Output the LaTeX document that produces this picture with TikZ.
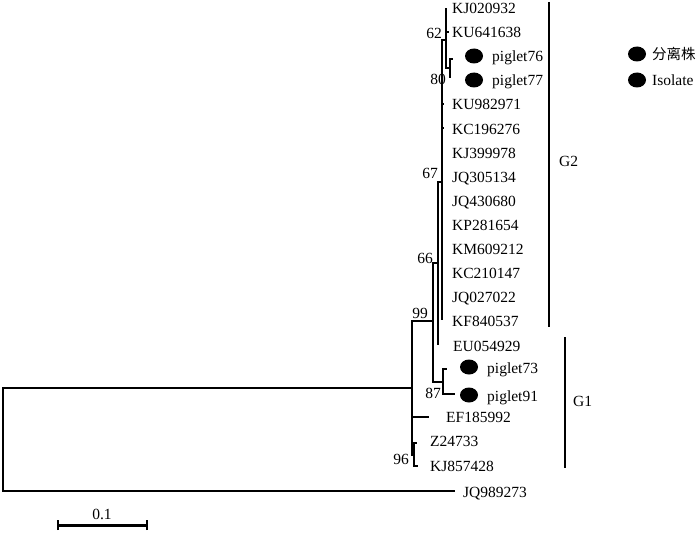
\documentclass[tikz,border=0pt]{standalone}
\usepackage{fontspec}
\setmainfont{Liberation Serif}
\newfontfamily\cjk{Noto Sans CJK SC}
\usetikzlibrary{shapes.geometric}
\begin{document}
\begin{tikzpicture}[x=1pt,y=-1pt,
  br/.style={line width=1.4pt},
  grp/.style={line width=1.4pt},
  lab/.style={anchor=base west, inner sep=0pt, font=\fontsize{15.5}{18}\selectfont},
  bs/.style={inner sep=0pt, font=\fontsize{15.5}{18}\selectfont},
  dot/.style={ellipse, fill=black, minimum width=18pt, minimum height=15pt, inner sep=0pt},
]
\useasboundingbox (0,0) rectangle (700,532);
% internal nodes
\coordinate (root) at (3,440);
\coordinate (nin) at (412,388);
\coordinate (n99) at (433,321);
\coordinate (n96) at (414,455);
\coordinate (n87) at (443,382);
\coordinate (n66) at (438,263);
\coordinate (n67) at (442,182);
\coordinate (n62) at (446,40);
\coordinate (n80) at (450,68);
% tips
\coordinate (t1) at (446,8);
\coordinate (t2) at (449,32);
\coordinate (t3) at (453,59);
\coordinate (t4) at (451,77);
\coordinate (t5) at (444,104);
\coordinate (t6) at (444,128);
\coordinate (t7) at (442,152);
\coordinate (t8) at (442,176);
\coordinate (t9) at (442,200);
\coordinate (t10) at (442,224);
\coordinate (t11) at (442,248);
\coordinate (t12) at (442,272);
\coordinate (t13) at (442,296);
\coordinate (t14) at (442,320);
\coordinate (t15) at (438,345);
\coordinate (t16) at (447,369);
\coordinate (t17) at (455,394);
\coordinate (t18) at (429,417);
\coordinate (t19) at (417,443);
\coordinate (t20) at (418,466);
\coordinate (t21) at (455,491);
% branches
\draw[br] (root) |- (nin);
\draw[br] (root) |- (t21);
\draw[br] (nin) |- (n99);
\draw[br] (nin) |- (t18);
\draw[br] (nin) |- (n96);
\draw[br] (n96) |- (t19);
\draw[br] (n96) |- (t20);
\draw[br] (n99) |- (n66);
\draw[br] (n99) |- (n87);
\draw[br] (n87) |- (t16);
\draw[br] (n87) |- (t17);
\draw[br] (n66) |- (n67);
\draw[br] (n66) |- (t15);
\draw[br] (n67) |- (n62);
\foreach \t in {t5,t6,t7,t8,t9,t10,t11,t12,t13,t14} \draw[br] (n67) |- (\t);
\draw[br] (n62) |- (t1);
\draw[br] (n62) |- (t2);
\draw[br] (n62) |- (n80);
\draw[br] (n80) |- (t3);
\draw[br] (n80) |- (t4);
% tip labels
\node[lab] (l1) at (452,14) {KJ020932};
\node[lab] (l2) at (452,38) {KU641638};
\node[dot] (d3) at (474,56) {};
\node[lab] (l3) at (492,62) {piglet76};
\node[dot] (d4) at (474,80) {};
\node[lab] (l4) at (492,86) {piglet77};
\node[lab] (l5) at (452,110) {KU982971};
\node[lab] (l6) at (452,134) {KC196276};
\node[lab] (l7) at (452,158) {KJ399978};
\node[lab] (l8) at (452,182) {JQ305134};
\node[lab] (l9) at (452,206) {JQ430680};
\node[lab] (l10) at (452,230) {KP281654};
\node[lab] (l11) at (452,254) {KM609212};
\node[lab] (l12) at (452,278) {KC210147};
\node[lab] (l13) at (452,302) {JQ027022};
\node[lab] (l14) at (452,326) {KF840537};
\node[lab] (l15) at (453,351) {EU054929};
\node[dot] (d16) at (469,367) {};
\node[lab] (l16) at (487,373) {piglet73};
\node[dot] (d17) at (469,395) {};
\node[lab] (l17) at (487,401) {piglet91};
\node[lab] (l18) at (446,422) {EF185992};
\node[lab] (l19) at (430,446) {Z24733};
\node[lab] (l20) at (430,471) {KJ857428};
\node[lab] (l21) at (463,497) {JQ989273};
% bootstrap values
\node[bs] (b62) at (434,33) {62};
\node[bs] (b80) at (438,79) {80};
\node[bs] (b67) at (430,173) {67};
\node[bs] (b66) at (425,258) {66};
\node[bs] (b99) at (420,313) {99};
\node[bs] (b87) at (433,393) {87};
\node[bs] (b96) at (401,459) {96};
% group brackets
\coordinate (g2a) at (549,2);
\coordinate (g2b) at (549,327);
\draw[grp] (g2a) -- (g2b);
\node[lab] (g2) at (559,166) {G2};
\coordinate (g1a) at (565,337);
\coordinate (g1b) at (565,468);
\draw[grp] (g1a) -- (g1b);
\node[lab] (g1) at (573,406) {G1};
% legend
\node[dot] (ld1) at (637,54) {};
\node[anchor=west, inner sep=0pt, font=\fontsize{14.5}{17}\selectfont\cjk] (lt1) at (652,54) {分离株};
\node[dot] (ld2) at (637,80) {};
\node[lab] (lt2) at (652,86) {Isolate};
% scale bar
\coordinate (sa) at (58,525);
\coordinate (sb) at (147,525);
\draw[line width=3pt] (sa) -- (sb);
\draw[line width=2.5pt] ([yshift=-5]sa) -- ([yshift=5]sa);
\draw[line width=2.5pt] ([yshift=-5]sb) -- ([yshift=5]sb);
\node[bs] (sl) at (102,514) {0.1};
\end{tikzpicture}
\end{document}
